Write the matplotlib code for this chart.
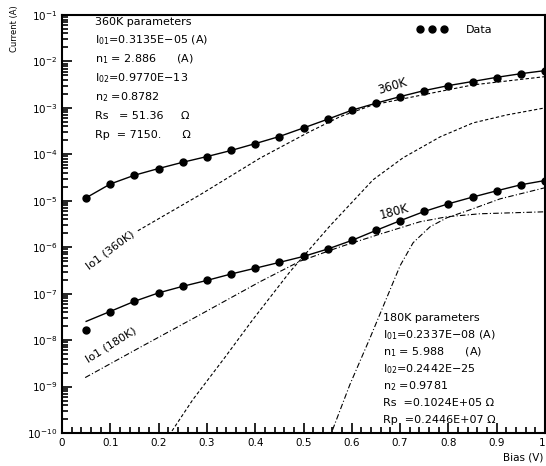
import matplotlib
matplotlib.use("Agg")
import matplotlib.pyplot as plt
from matplotlib.ticker import FixedLocator, NullFormatter

# bias points of the measurements (V)
bias = [0.05, 0.10, 0.15, 0.20, 0.25, 0.30, 0.35, 0.40, 0.45, 0.50,
        0.55, 0.60, 0.65, 0.70, 0.75, 0.80, 0.85, 0.90, 0.95, 1.00]

# measured current (A)
data_360 = [1.14e-5, 2.32e-5, 3.57e-5, 4.95e-5, 6.79e-5, 8.97e-5, 1.21e-4, 1.71e-4,
            2.42e-4, 3.72e-4, 5.71e-4, 8.93e-4, 1.26e-3, 1.75e-3, 2.36e-3, 3.02e-3,
            3.68e-3, 4.49e-3, 5.38e-3, 6.25e-3]
data_180 = [1.68e-8, 4.10e-8, 6.83e-8, 1.04e-7, 1.44e-7, 1.93e-7, 2.65e-7, 3.53e-7,
            4.71e-7, 6.34e-7, 9.14e-7, 1.40e-6, 2.30e-6, 3.72e-6, 5.89e-6, 8.61e-6,
            1.20e-5, 1.64e-5, 2.21e-5, 2.73e-5]

# total fits
fit_360 = [1.16e-5, 2.30e-5, 3.55e-5, 4.95e-5, 6.75e-5, 8.95e-5, 1.21e-4, 1.70e-4,
           2.42e-4, 3.70e-4, 5.70e-4, 8.90e-4, 1.26e-3, 1.75e-3, 2.36e-3, 3.02e-3,
           3.70e-3, 4.55e-3, 5.45e-3, 6.35e-3]
fit_180 = [2.53e-8, 4.15e-8, 6.85e-8, 1.04e-7, 1.44e-7, 1.93e-7, 2.65e-7, 3.53e-7,
           4.71e-7, 6.34e-7, 9.14e-7, 1.40e-6, 2.30e-6, 3.72e-6, 5.89e-6, 8.61e-6,
           1.20e-5, 1.64e-5, 2.21e-5, 2.73e-5]

# components
io1_360_v = [0.157, 0.286, 0.41, 0.507, 0.576, 0.644, 0.747, 0.851, 1.0]
io1_360_i = [2.26e-6, 1.35e-5, 8.28e-5, 2.86e-4, 6.50e-4, 1.16e-3, 1.91e-3, 3.13e-3, 4.71e-3]

io2_360_v = [0.215, 0.271, 0.337, 0.395, 0.472, 0.555, 0.644, 0.706, 0.783, 0.851, 0.921, 1.0]
io2_360_i = [7.0e-11, 5.25e-10, 4.21e-9, 2.76e-8, 2.97e-7, 2.90e-6, 2.83e-5, 8.41e-5,
             2.38e-4, 4.75e-4, 7.06e-4, 1.0e-3]

io1_180_v = [0.048, 0.161, 0.286, 0.41, 0.493, 0.576, 0.658, 0.741, 0.797, 0.865, 1.0]
io1_180_i = [1.56e-9, 6.93e-9, 3.53e-8, 1.81e-7, 5.01e-7, 1.02e-6, 1.91e-6, 3.53e-6,
             4.53e-6, 5.25e-6, 5.79e-6]

io2_180_v = [0.552, 0.596, 0.638, 0.669, 0.700, 0.727, 0.762, 0.797, 0.845, 0.907, 1.0]
io2_180_i = [7.0e-11, 1.10e-9, 1.13e-8, 6.73e-8, 4.0e-7, 1.25e-6, 2.76e-6, 4.31e-6,
             6.40e-6, 1.10e-5, 1.91e-5]

params_360 = ["360K parameters",
              "I$_{01}$=0.3135E\u221205 (A)",
              "n$_1$ = 2.886      (A)",
              "I$_{02}$=0.9770E\u221213",
              "n$_2$ =0.8782",
              "Rs   = 51.36     \u03a9",
              "Rp  = 7150.      \u03a9"]
params_180 = ["180K parameters",
              "I$_{01}$=0.2337E\u221208 (A)",
              "n$_1$ = 5.988      (A)",
              "I$_{02}$=0.2442E\u221225",
              "n$_2$ =0.9781",
              "Rs  =0.1024E+05 \u03a9",
              "Rp  =0.2446E+07 \u03a9"]

xticks = [0, 0.1, 0.2, 0.3, 0.4, 0.5, 0.6, 0.7, 0.8, 0.9, 1.0]
xtick_labels = ["0", "0.1", "0.2", "0.3", "0.4", "0.5", "0.6", "0.7", "0.8", "0.9", "1"]
decades = list(range(-10, 0))
ytick_labels = ["$10^{%d}$" % d for d in decades]

plt.rcParams["font.family"] = "DejaVu Sans"
fig = plt.figure(figsize=(5.46, 4.66), dpi=100)
ax = fig.add_axes([62/546, 33/466, 483/546, 418/466])

ax.plot(bias, fit_360, color="black", lw=1.0)
ax.plot(bias, fit_180, color="black", lw=1.0)
h, = ax.plot(bias, data_360, "o", color="black", ms=5, label="Data")
ax.plot(bias, data_180, "o", color="black", ms=5)

ax.plot(io1_360_v, io1_360_i, color="black", lw=0.8, ls=(0, (3, 2)))
ax.plot(io2_360_v, io2_360_i, color="black", lw=0.8, ls=(0, (3, 2)))
ax.plot(io1_180_v, io1_180_i, color="black", lw=0.8, ls=(0, (5, 2, 1, 2)))
ax.plot(io2_180_v, io2_180_i, color="black", lw=0.8, ls=(0, (5, 2, 1, 2)))

ax.set_yscale("log")
ax.set_xlim(0, 1)
ax.set_ylim(1e-10, 1e-1)
ax.xaxis.set_major_locator(FixedLocator(xticks))
ax.set_xticklabels(xtick_labels)
ax.get_xticklabels()[-1].set_horizontalalignment("right")
ax.xaxis.set_minor_locator(FixedLocator([i * 0.02 for i in range(51)]))
ax.yaxis.set_major_locator(FixedLocator([10.0 ** d for d in decades]))
ax.set_yticklabels(ytick_labels)
ax.yaxis.set_minor_locator(FixedLocator([m * 10.0 ** d for d in decades[:-1] for m in range(2, 10)]))
ax.yaxis.set_minor_formatter(NullFormatter())
ax.tick_params(which="both", direction="in", top=False, right=False, labelsize=7.5, width=1.2)
ax.tick_params(which="major", length=7)
ax.tick_params(which="minor", length=4)
for s in ax.spines.values():
    s.set_linewidth(1.5)

ax.legend([h], ["Data"], numpoints=3, loc="center left", frameon=False,
          bbox_to_anchor=(0.735, 0.964), fontsize=8, handlelength=2.7, handletextpad=1.7,
          borderpad=0, borderaxespad=0)

for i, t in enumerate(params_360):
    ax.text(0.068, 0.984 - i * 0.045, t, transform=ax.transAxes, fontsize=8, va="center")
for i, t in enumerate(params_180):
    ax.text(0.665, 0.275 - i * 0.0405, t, transform=ax.transAxes, fontsize=8, va="center")

ax.text(0.685, 2.9e-3, "360K", fontsize=8.5, rotation=17, ha="center", va="center")
ax.text(0.687, 5.8e-6, "180K", fontsize=8.5, rotation=15, ha="center", va="center")
ax.text(0.099, 8.8e-7, "Io1 (360K)", fontsize=8, rotation=37, ha="center", va="center")
ax.text(0.101, 8.0e-9, "Io1 (180K)", fontsize=8, rotation=32, ha="center", va="center")

fig.text(14/546, 1 - 29/466, "Current (A)", rotation=90, fontsize=6, ha="center", va="center")
fig.text(543/546, 1 - 458/466, "Bias (V)", fontsize=7.5, ha="right", va="center")

fig.savefig("out.png", dpi=100)
